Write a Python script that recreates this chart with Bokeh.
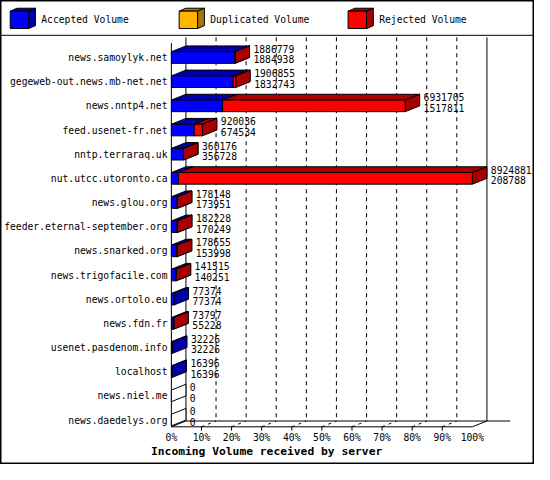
from bokeh.plotting import figure
from bokeh.models import Range1d, ColumnDataSource
from bokeh.core.properties import value
from bokeh.embed import file_html
from bokeh.resources import INLINE

# ---------------- data ----------------
hosts = ["news.samoylyk.net", "gegeweb-out.news.mb-net.net", "news.nntp4.net",
         "feed.usenet-fr.net", "nntp.terraraq.uk", "nut.utcc.utoronto.ca",
         "news.glou.org", "feeder.eternal-september.org", "news.snarked.org",
         "news.trigofacile.com", "news.ortolo.eu", "news.fdn.fr",
         "usenet.pasdenom.info", "localhost", "news.niel.me", "news.daedelys.org"]
offered = [1886779, 1906855, 6931705, 920036, 360176, 8924881, 178148, 182228,
           178655, 141515, 77374, 73797, 32226, 16396, 0, 0]
accepted = [1884938, 1832743, 1517811, 674534, 356728, 208788, 173951, 170249,
            153998, 140251, 77374, 55228, 32226, 16396, 0, 0]
duplicated = [0] * 16
rejected = [1841, 74112, 5413894, 245502, 3448, 8716093, 4197, 11979,
            24657, 1264, 0, 18569, 0, 0, 0, 0]
series_names = ["Accepted Volume", "Duplicated Volume", "Rejected Volume"]
front_colors = ["#0000FF", "#FFB400", "#FF0000"]
dark_colors = ["#0000A8", "#A87800", "#A80000"]
tick_pcts = [0, 10, 20, 30, 40, 50, 60, 70, 80, 90, 100]
tick_labels = ["0%", "10%", "20%", "30%", "40%", "50%", "60%", "70%", "80%", "90%", "100%"]
x_title = "Incoming Volume received by server"

# ---------------- layout helpers (reference pixel -> data) ----------------
PX_PER_PCT = 3.1
PX_PER_ROW = 25.0
X0_REF = 176.0
Y0_REF = 59.0


def X(ref):
    return (ref - X0_REF) / PX_PER_PCT


def Y(ref):
    return (ref - Y0_REF) / PX_PER_ROW


DX = 15 / PX_PER_PCT
DY = -6 / PX_PER_ROW
HALF = 6 / PX_PER_ROW
MONO = value("DejaVu Sans Mono")
FS = "9.7px"

p = figure(width=534, height=464, output_backend="svg", toolbar_location=None,
           x_range=Range1d(X(0), X(550)), y_range=Range1d(Y(480), Y(0)),
           x_axis_location=None, y_axis_location=None, min_border=0)
p.grid.grid_line_color = None
p.outline_line_color = "black"
p.outline_line_width = 2
p.background_fill_color = "white"

# separator under legend
p.segment(x0=[X(0)], y0=[Y(36)], x1=[X(550)], y1=[Y(36)], line_color="black", line_width=1)

# ---------------- walls / floor ----------------
top_back, top_front = Y(38), Y(44)
floor_front = Y(441)
floor_back = floor_front + DY
# dashed gridlines on back wall and floor
for t in tick_pcts[1:-1]:
    p.segment(x0=[t + DX], y0=[top_back], x1=[t + DX], y1=[floor_back],
              line_color="black", line_dash="4 4", line_width=1)
    p.segment(x0=[t], y0=[floor_front], x1=[t + DX], y1=[floor_back],
              line_color="black", line_dash="3 4", line_width=1)
    p.segment(x0=[t], y0=[floor_front], x1=[t], y1=[floor_front + 4 / PX_PER_ROW],
              line_color="black", line_width=1)
# solid edges
p.segment(x0=[0, DX, 100 + DX, 0, DX, 0, 100],
          y0=[top_front, top_back, top_back, floor_front, floor_back, floor_front, floor_front],
          x1=[0, DX, 100 + DX, 100, X(525), DX, 100 + DX],
          y1=[floor_front, floor_back, floor_back, floor_front, floor_back, floor_back, floor_back],
          line_color="black", line_width=1)

# ---------------- bars ----------------
xs, ys, fills = [], [], []
lab_x, lab_y1, lab_y2, lab_t1, lab_t2 = [], [], [], [], []
vmax = max(offered)
for i, h in enumerate(hosts):
    yt, yb = i - HALF, i + HALF
    parts = [accepted[i], duplicated[i], rejected[i]]
    start = 0.0
    drawn = False
    for k, v in enumerate(parts):
        if v <= 0:
            continue
        w = v / vmax * 100
        x0, x1 = start, start + w
        # top face
        xs.append([x0, x1, x1 + DX, x0 + DX]); ys.append([yt, yt, yt + DY, yt + DY]); fills.append(dark_colors[k])
        # side face
        xs.append([x1, x1 + DX, x1 + DX, x1]); ys.append([yt, yt + DY, yb + DY, yb]); fills.append(dark_colors[k])
        # front face
        xs.append([x0, x1, x1, x0]); ys.append([yt, yt, yb, yb]); fills.append(front_colors[k])
        start = x1
        drawn = True
    if not drawn:
        xs.append([0, DX, DX, 0]); ys.append([yt, yt + DY, yb + DY, yb]); fills.append("white")
    lab_x.append(start + DX + 4 / PX_PER_PCT)
    lab_y1.append(i - 9 / PX_PER_ROW)
    lab_y2.append(i + 2 / PX_PER_ROW)
    lab_t1.append(str(offered[i]))
    lab_t2.append(str(accepted[i]))

p.patches(xs=xs, ys=ys, fill_color=fills, line_color="black", line_width=1)

p.text(x=lab_x, y=lab_y1, text=lab_t1, text_font=MONO, text_font_size=FS,
       text_align="left", text_baseline="middle", text_color="black")
p.text(x=lab_x, y=lab_y2, text=lab_t2, text_font=MONO, text_font_size=FS,
       text_align="left", text_baseline="middle", text_color="black")

# category labels
p.text(x=[X(172)] * len(hosts), y=list(range(len(hosts))), text=hosts, text_font=MONO,
       text_font_size=FS, text_align="right", text_baseline="middle", text_color="black")

# percent tick labels
p.text(x=tick_pcts, y=[Y(452)] * len(tick_pcts), text=tick_labels, text_font=MONO,
       text_font_size=FS, text_align="center", text_baseline="middle", text_color="black")

# axis title
p.text(x=[X(155)], y=[Y(467)], text=[x_title], text_font=MONO, text_font_size="11.3px",
       text_font_style="bold", text_align="left", text_baseline="middle", text_color="black")

# ---------------- legend ----------------
leg_x = [10, 184, 358]
lxs, lys, lf = [], [], []
for k in range(3):
    x0, x1 = X(leg_x[k]), X(leg_x[k] + 19)
    ldx, ldy = 7 / PX_PER_PCT, -3 / PX_PER_ROW
    yt, yb = Y(11), Y(29)
    lxs.append([x0, x1, x1 + ldx, x0 + ldx]); lys.append([yt, yt, yt + ldy, yt + ldy]); lf.append(dark_colors[k])
    lxs.append([x1, x1 + ldx, x1 + ldx, x1]); lys.append([yt, yt + ldy, yb + ldy, yb]); lf.append(dark_colors[k])
    lxs.append([x0, x1, x1, x0]); lys.append([yt, yt, yb, yb]); lf.append(front_colors[k])
p.patches(xs=lxs, ys=lys, fill_color=lf, line_color="black", line_width=1)
p.text(x=[X(v + 32) for v in leg_x], y=[Y(20)] * 3, text=series_names, text_font=MONO,
       text_font_size=FS, text_align="left", text_baseline="middle", text_color="black")

open("out.html", "w").write(file_html(p, INLINE))
